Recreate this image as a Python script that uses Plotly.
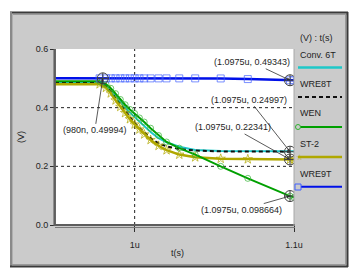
import plotly.graph_objects as go

# ---------------- data (time in microseconds, voltage in V) ----------------
t_us = [0.95, 0.978, 0.982, 0.985, 0.988, 0.991, 0.994, 0.997, 1.0, 1.003,
        1.006, 1.010, 1.015, 1.020, 1.028, 1.038, 1.054, 1.071, 1.0975, 1.1]

conv6t = [0.487, 0.487, 0.476, 0.460, 0.440, 0.419, 0.400, 0.383, 0.368, 0.351,
          0.336, 0.317, 0.296, 0.282, 0.267, 0.256, 0.2525, 0.252, 0.2515, 0.2515]
wre8t = [0.484, 0.484, 0.472, 0.455, 0.432, 0.410, 0.389, 0.368, 0.348, 0.331,
         0.315, 0.296, 0.278, 0.268, 0.259, 0.254, 0.251, 0.2502, 0.24997, 0.24996]
wen = [0.490, 0.490, 0.480, 0.466, 0.448, 0.428, 0.410, 0.394, 0.380, 0.365,
       0.351, 0.330, 0.305, 0.283, 0.262, 0.240, 0.200, 0.159, 0.098664, 0.094]
st2 = [0.480, 0.480, 0.468, 0.449, 0.425, 0.403, 0.382, 0.361, 0.343, 0.326,
       0.309, 0.290, 0.270, 0.255, 0.240, 0.231, 0.226, 0.2243, 0.22341, 0.2234]
wre9t = [0.4999, 0.49994, 0.4999, 0.4999, 0.4999, 0.4999, 0.4999, 0.4999, 0.4998, 0.4998,
         0.4998, 0.4998, 0.4998, 0.4998, 0.4998, 0.4998, 0.4996, 0.4975, 0.49343, 0.4932]

series_names = ["Conv. 6T", "WRE8T", "WEN", "ST-2", "WRE9T"]

cursor_t = [0.98, 1.0975, 1.0975, 1.0975, 1.0975]
cursor_t_lbl = ["980n", "1.0975u", "1.0975u", "1.0975u", "1.0975u"]
cursor_v = [0.49994, 0.49343, 0.24997, 0.22341, 0.098664]
cursor_v_lbl = ["0.49994", "0.49343", "0.24997", "0.22341", "0.098664"]
cursor_offsets = [(-8, 52), (-38, -18), (-41, -52), (-57, -32), (-49, 14)]

y_ticks = [0.0, 0.2, 0.4, 0.6]
y_tick_text = ["0.0", "0.2", "0.4", "0.6"]
x_ticks = [1.0, 1.1]
x_tick_text = ["1u", "1.1u"]
grid_y = [0.2, 0.4]
grid_x = [1.0]

# ---------------- styling ----------------
W, H = 357, 270
L, R, T, B = 55, 294, 49, 225   # plot area in pixels
FONT = "Liberation Sans, Arial, sans-serif"
TXT = "#1e1e1e"

def px(xp):
    return (xp - L) / (R - L)

def py(yp):
    return (B - yp) / (B - T)

colors = {"Conv. 6T": "#1ec8c8", "WRE8T": "#101010", "WEN": "#00a000",
          "ST-2": "#b0a800", "WRE9T": "#0010e8"}

mk_size = [0] + [6] * (len(t_us) - 1)

fig = go.Figure()
fig.add_trace(go.Scatter(x=t_us, y=conv6t, mode="lines", name="Conv. 6T",
                         line=dict(color=colors["Conv. 6T"], width=2)))
fig.add_trace(go.Scatter(x=t_us, y=wre8t, mode="lines", name="WRE8T",
                         line=dict(color=colors["WRE8T"], width=2, dash="4px,3px")))
fig.add_trace(go.Scatter(x=t_us, y=st2, mode="lines+markers", name="ST-2",
                         line=dict(color=colors["ST-2"], width=2.5),
                         marker=dict(symbol="star-open", size=[s + 1 for s in mk_size],
                                     color=colors["ST-2"], line=dict(width=1))))
fig.add_trace(go.Scatter(x=t_us, y=wen, mode="lines+markers", name="WEN",
                         line=dict(color=colors["WEN"], width=2),
                         marker=dict(symbol="circle-open", size=mk_size,
                                     color="#30b030", line=dict(width=1))))
fig.add_trace(go.Scatter(x=t_us, y=wre9t, mode="lines+markers", name="WRE9T",
                         line=dict(color=colors["WRE9T"], width=2.5),
                         marker=dict(symbol="square-open", size=[s + 1 for s in mk_size],
                                     color="#4060ff", line=dict(width=1))))
# cursor markers
fig.add_trace(go.Scatter(x=cursor_t, y=cursor_v, mode="markers", showlegend=False,
                         marker=dict(symbol="circle-cross-open", size=11,
                                     color="#404040", line=dict(width=1))))

shapes = []
# gray frame
shapes.append(dict(type="rect", xref="paper", yref="paper", layer="below",
                   x0=px(10), x1=px(348), y0=py(267), y1=py(12),
                   fillcolor="#cbcbcb", line=dict(width=0)))
# white plot area
shapes.append(dict(type="rect", xref="paper", yref="paper", layer="below",
                   x0=0, x1=1, y0=0, y1=1, fillcolor="white", line=dict(width=0)))
# frame borders
def seg(x0, y0, x1, y1, color, width, layer="above"):
    shapes.append(dict(type="line", xref="paper", yref="paper", layer=layer,
                       x0=px(x0), y0=py(y0), x1=px(x1), y1=py(y1),
                       line=dict(color=color, width=width)))

seg(10, 12.5, 348, 12.5, "#3a3a3a", 2)
seg(10, 14.5, 347, 14.5, "#9a9a9a", 1)
seg(11, 12, 11, 267, "#8a8a8a", 2)
seg(12.5, 14, 12.5, 265, "#b0b0b0", 1)
seg(347.5, 12, 347.5, 267, "#3a3a3a", 2)
seg(345.5, 14, 345.5, 265, "#9a9a9a", 1)
seg(10, 266.5, 348, 266.5, "#3a3a3a", 2)
seg(12, 264.5, 346, 264.5, "#9a9a9a", 1)
# plot-area borders
seg(54.7, 49, 54.7, 226, "#5e5e5e", 2.5)
seg(54, 225, 295, 225, "#5e5e5e", 2)
seg(55, 227.5, 295, 227.5, "#7a7a7a", 1)
seg(294, 49, 294, 226, "#a8a8a8", 1)

# grid lines through the axis scales
for gy in grid_y:
    shapes.append(dict(type="line", xref="paper", yref="y", layer="below",
                       x0=0, x1=1, y0=gy, y1=gy,
                       line=dict(color="#202020", width=1, dash="dot")))
for gx in grid_x:
    shapes.append(dict(type="line", xref="x", yref="paper", layer="below",
                       x0=gx, x1=gx, y0=0, y1=1,
                       line=dict(color="#202020", width=1, dash="dot")))

# legend (drawn in the gray frame)
annotations = []
def txt(x, y, s, **kw):
    d = dict(xref="paper", yref="paper", x=px(x), y=py(y), text=s, showarrow=False,
             xanchor="left", yanchor="middle", font=dict(family=FONT, size=9, color=TXT))
    d.update(kw)
    annotations.append(d)

txt(298, 38, "(V) : t(s)")
leg_text_y = [55, 84, 113, 144, 174]
leg_line_y = [67.5, 97, 127, 157, 186.7]
leg_dash = ["solid", "4px,3px", "solid", "solid", "solid"]
leg_w = [2.5, 2, 2, 2.5, 2]
for name, ty, ly, dsh, w in zip(series_names, leg_text_y, leg_line_y, leg_dash, leg_w):
    txt(298, ty, name)
    shapes.append(dict(type="line", xref="paper", yref="paper", layer="above",
                       x0=px(298), x1=px(342), y0=py(ly), y1=py(ly),
                       line=dict(color=colors[name], width=w, dash=dsh)))
# legend symbols
shapes.append(dict(type="circle", xref="paper", yref="paper", layer="above",
                   x0=px(295.5), x1=px(300.5), y0=py(129.5), y1=py(124.5),
                   line=dict(color="#30b030", width=1), fillcolor="#cbcbcb"))
shapes.append(dict(type="rect", xref="paper", yref="paper", layer="above",
                   x0=px(295), x1=px(301), y0=py(190), y1=py(184),
                   line=dict(color="#4060ff", width=1), fillcolor="#cbcbcb"))
annotations.append(dict(xref="paper", yref="paper", x=px(299), y=py(157), text="☆",
                        showarrow=False, xanchor="center", yanchor="middle",
                        font=dict(family="DejaVu Sans", size=8, color=colors["ST-2"])))

# cursor readouts
for ct, cl, cv, vl, (ax, ay) in zip(cursor_t, cursor_t_lbl, cursor_v, cursor_v_lbl, cursor_offsets):
    annotations.append(dict(x=ct, y=cv, xref="x", yref="y", text=f"({cl}, {vl})",
                            showarrow=True, ax=ax, ay=ay, arrowhead=2, arrowsize=0.8,
                            arrowwidth=0.8, arrowcolor="#303030", standoff=0,
                            font=dict(family=FONT, size=9, color=TXT)))

# axis titles
annotations.append(dict(xref="paper", yref="paper", x=px(21), y=py(137), text="(V)",
                        showarrow=False, textangle=-90, xanchor="center", yanchor="middle",
                        font=dict(family=FONT, size=9, color=TXT)))
annotations.append(dict(xref="paper", yref="paper", x=px(177), y=py(253), text="t(s)",
                        showarrow=False, xanchor="center", yanchor="middle",
                        font=dict(family=FONT, size=9, color=TXT)))

fig.update_layout(
    width=W, height=H,
    margin=dict(l=L, r=W - R, t=T, b=H - B, pad=0),
    paper_bgcolor="white", plot_bgcolor="rgba(0,0,0,0)",
    showlegend=False,
    shapes=shapes, annotations=annotations,
    font=dict(family=FONT, size=9, color=TXT),
    xaxis=dict(range=[0.95, 1.1], tickvals=x_ticks, ticktext=x_tick_text,
               showgrid=False, zeroline=False, showline=False,
               ticks="outside", ticklen=6, tickcolor="#303030", tickwidth=1,
               ticklabelstandoff=5, fixedrange=True),
    yaxis=dict(range=[0, 0.6], tickvals=y_ticks, ticktext=y_tick_text,
               showgrid=False, zeroline=False, showline=False,
               ticks="outside", ticklen=4, tickcolor="#303030", tickwidth=1,
               fixedrange=True),
)

fig.write_html("out.html", config={"displayModeBar": False},
               post_script="document.body.style.margin='0';document.body.style.overflow='hidden';")
